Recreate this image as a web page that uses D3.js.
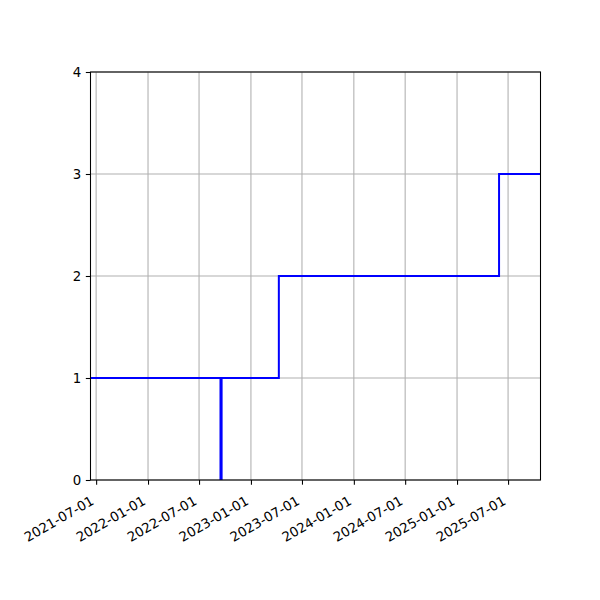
<!DOCTYPE html>
<html>
<head>
<meta charset="utf-8">
<script src="https://cdn.jsdelivr.net/npm/d3@7"></script>
<style>
  html, body { margin: 0; padding: 0; background: #fff; }
  text { font-family: "DejaVu Sans", sans-serif; }
</style>
</head>
<body>
<svg id="chart" width="600" height="600"></svg>
<script>
// Data (step-after series)
const dates = ["2021-06-11", "2022-09-15", "2022-09-19", "2023-04-10", "2025-05-30", "2025-10-24"];
const values = [1, 0, 1, 2, 3, 3];
const xTickLabels = ["2021-07-01", "2022-01-01", "2022-07-01", "2023-01-01", "2023-07-01", "2024-01-01", "2024-07-01", "2025-01-01", "2025-07-01"];
const yTicks = [0, 1, 2, 3, 4];

const parse = d3.timeParse("%Y-%m-%d");
const data = dates.map((d, i) => ({ date: parse(d), value: values[i] }));

const margin = { left: 90.5, right: 540.5, top: 72, bottom: 480 };
const svg = d3.select("#chart");

const x = d3.scaleTime()
  .domain([parse(dates[0]), parse(dates[dates.length - 1])])
  .range([margin.left, margin.right]);
const y = d3.scaleLinear().domain([0, 4]).range([margin.bottom, margin.top]);

const fs = 13.33;
const tickDates = xTickLabels.map(parse);

// Grid
const grid = svg.append("g");
grid.selectAll("line.gx").data(tickDates).enter().append("line")
  .attr("x1", d => x(d)).attr("x2", d => x(d))
  .attr("y1", margin.top).attr("y2", margin.bottom)
  .attr("stroke", "#b0b0b0").attr("stroke-width", 1.07);
grid.selectAll("line.gy").data(yTicks).enter().append("line")
  .attr("x1", margin.left).attr("x2", margin.right)
  .attr("y1", d => y(d)).attr("y2", d => y(d))
  .attr("stroke", "#b0b0b0").attr("stroke-width", 1.07);

// Clip
svg.append("clipPath").attr("id", "clip").append("rect")
  .attr("x", margin.left).attr("y", margin.top - 2)
  .attr("width", margin.right - margin.left).attr("height", margin.bottom - margin.top + 2);

// Line
const line = d3.line().curve(d3.curveStepAfter)
  .x(d => x(d.date)).y(d => y(d.value));
svg.append("path").datum(data)
  .attr("clip-path", "url(#clip)")
  .attr("d", line)
  .attr("fill", "none").attr("stroke", "#0000ff").attr("stroke-width", 2);

// Axes
const xAxis = d3.axisBottom(x).tickValues(tickDates).tickSize(4.67).tickPadding(0)
  .tickFormat(d3.timeFormat("%Y-%m-%d"));
const gx = svg.append("g").attr("transform", `translate(0,${margin.bottom})`).call(xAxis);
gx.select(".domain").remove();
gx.selectAll(".tick line").attr("stroke", "#000").attr("stroke-width", 1.07);
gx.selectAll(".tick text")
  .attr("font-size", fs).attr("fill", "#000")
  .attr("text-anchor", "end")
  .attr("y", 0).attr("dy", 0)
  .attr("transform", "translate(-1.8,23.5) rotate(-30)");

const yAxis = d3.axisLeft(y).tickValues(yTicks).tickSize(4.67).tickPadding(4.67).tickFormat(d3.format("d"));
const gy = svg.append("g").attr("transform", `translate(${margin.left},0)`).call(yAxis);
gy.select(".domain").remove();
gy.selectAll(".tick line").attr("stroke", "#000").attr("stroke-width", 1.07);
gy.selectAll(".tick text").attr("font-size", fs).attr("fill", "#000").attr("dy", "0.35em");

// Frame
svg.append("rect")
  .attr("x", margin.left).attr("y", margin.top)
  .attr("width", margin.right - margin.left).attr("height", margin.bottom - margin.top)
  .attr("fill", "none").attr("stroke", "#000").attr("stroke-width", 1.07);
</script>
</body>
</html>
